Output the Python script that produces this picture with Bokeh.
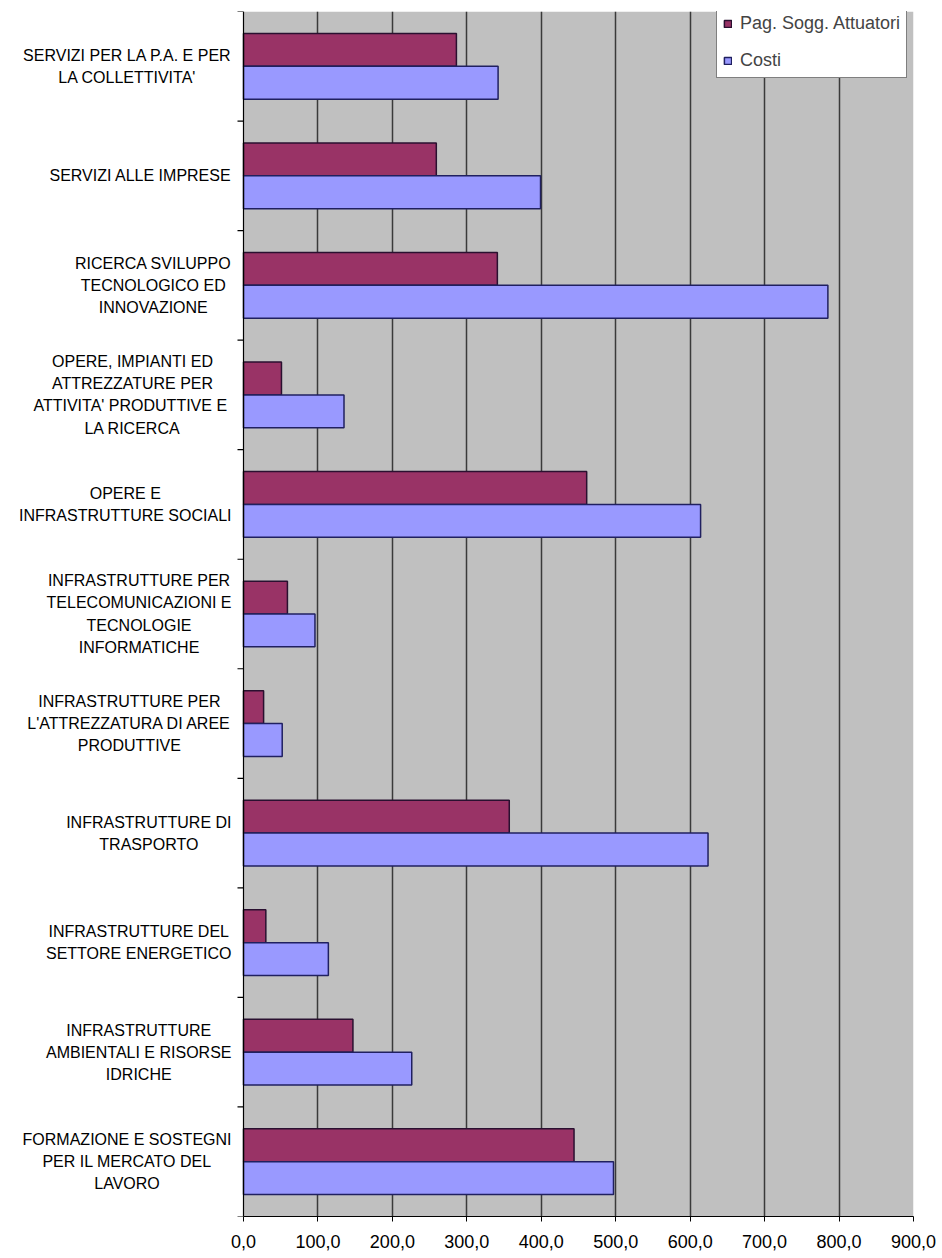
from bokeh.plotting import figure
from bokeh.models import (ColumnDataSource, Range1d, FixedTicker, Label, Legend,
                          LegendItem, BoxAnnotation, Span)
from bokeh.transform import dodge
from bokeh.embed import file_html
from bokeh.resources import INLINE

categories = [
    "SERVIZI PER LA P.A. E PER\nLA COLLETTIVITA'",
    "SERVIZI ALLE IMPRESE",
    "RICERCA SVILUPPO\nTECNOLOGICO ED\nINNOVAZIONE",
    "OPERE, IMPIANTI ED\nATTREZZATURE PER\nATTIVITA' PRODUTTIVE  E\nLA RICERCA",
    "OPERE E\nINFRASTRUTTURE SOCIALI",
    "INFRASTRUTTURE PER\nTELECOMUNICAZIONI E\nTECNOLOGIE\nINFORMATICHE",
    "INFRASTRUTTURE PER\nL'ATTREZZATURA DI AREE\nPRODUTTIVE",
    "INFRASTRUTTURE DI\nTRASPORTO",
    "INFRASTRUTTURE DEL\nSETTORE ENERGETICO",
    "INFRASTRUTTURE\nAMBIENTALI E RISORSE\nIDRICHE",
    "FORMAZIONE E SOSTEGNI\nPER IL MERCATO DEL\nLAVORO",
]
pag_sogg_attuatori = [286, 259, 341, 51, 461, 59, 27, 357, 30, 147, 444]
costi = [342, 399, 785, 135, 614, 96, 52, 624, 114, 226, 497]
series_names = ["Pag. Sogg. Attuatori", "Costi"]
tick_values = [0, 100, 200, 300, 400, 500, 600, 700, 800, 900]
tick_labels = ["0,0", "100,0", "200,0", "300,0", "400,0", "500,0",
               "600,0", "700,0", "800,0", "900,0"]

n = len(categories)
pos = [i + 0.5 for i in range(n)]
src = ColumnDataSource(dict(cat=categories, pos=pos,
                            pag=pag_sogg_attuatori, costi=costi))

# layout: frame spans x pixels 0..913, value 0 sits at pixel 243
FRAME_W = 913
PLOT_LEFT_PX = 243
xmax = tick_values[-1]
label_space = PLOT_LEFT_PX * xmax / (FRAME_W - PLOT_LEFT_PX)
px = (FRAME_W - PLOT_LEFT_PX) / xmax  # pixels per unit

p = figure(width=942, height=1258,
           x_range=Range1d(-label_space, xmax),
           y_range=Range1d(n, 0),
           output_backend="svg", toolbar_location=None,
           min_border_left=0, min_border_right=942 - FRAME_W,
           min_border_top=11, min_border_bottom=42)

p.background_fill_color = "white"
p.border_fill_color = "white"
p.outline_line_color = None

# gray plot area
p.add_layout(BoxAnnotation(left=0, right=xmax, fill_color="#C0C0C0",
                           fill_alpha=1, line_color=None, level="image"))

bar_h = 0.30
r1 = p.hbar(y=dodge("pos", -bar_h / 2, range=p.y_range), height=bar_h,
            left=0, right="pag", source=src,
            fill_color="#993366", line_color="#2a1030", line_width=1.5)
r2 = p.hbar(y=dodge("pos", bar_h / 2, range=p.y_range), height=bar_h,
            left=0, right="costi", source=src,
            fill_color="#9999FF", line_color="#202060", line_width=1.5)

# grid
p.xgrid.ticker = FixedTicker(ticks=tick_values[1:])
p.xgrid.grid_line_color = "#3a3a3a"
p.xgrid.grid_line_width = 1.5
p.ygrid.grid_line_color = None

# x axis
p.xaxis.bounds = (0, xmax)
p.xaxis.ticker = FixedTicker(ticks=tick_values)
p.xaxis.major_label_overrides = {v: l for v, l in zip(tick_values, tick_labels)}
p.xaxis.major_label_text_font = "Liberation Sans"
p.xaxis.major_label_text_font_size = "18px"
p.xaxis.major_label_text_color = "black"
p.xaxis.major_label_standoff = 13
p.xaxis.major_tick_out = 5
p.xaxis.major_tick_in = 0
p.xaxis.minor_tick_line_color = None
p.xaxis.axis_line_color = "black"
p.xaxis.major_tick_line_color = "black"

# vertical category axis at value 0, with ticks at category boundaries
p.yaxis.visible = False
p.add_layout(Span(location=0, dimension="height", line_color="black",
                  line_width=1.2))
bounds = list(range(n + 1))
p.segment(x0=[-6 / px] * len(bounds), x1=[0] * len(bounds),
          y0=bounds, y1=bounds, line_color="black", line_width=1.2)

# category labels
for c, y in zip(categories, pos):
    p.add_layout(Label(x=-12 / px, y=y, x_units="data", y_units="data", text=c,
                       text_align="center", text_baseline="middle",
                       anchor="center_right",
                       text_font="Liberation Sans", text_font_size="16px",
                       text_line_height=1.3, text_color="black"))

legend = Legend(items=[LegendItem(label=series_names[0], renderers=[r1]),
                       LegendItem(label=series_names[1], renderers=[r2])],
                location=(716, 1138))
legend.border_line_color = "black"
legend.border_line_width = 1
legend.background_fill_color = "white"
legend.background_fill_alpha = 1
legend.label_text_font = "Liberation Sans"
legend.label_text_font_size = "18px"
legend.glyph_width = 9
legend.glyph_height = 9
legend.label_standoff = 8
legend.padding = 6
legend.spacing = 15
legend.label_height = 22
legend.margin = 0
p.add_layout(legend)

open("out.html", "w").write(file_html(p, INLINE))
